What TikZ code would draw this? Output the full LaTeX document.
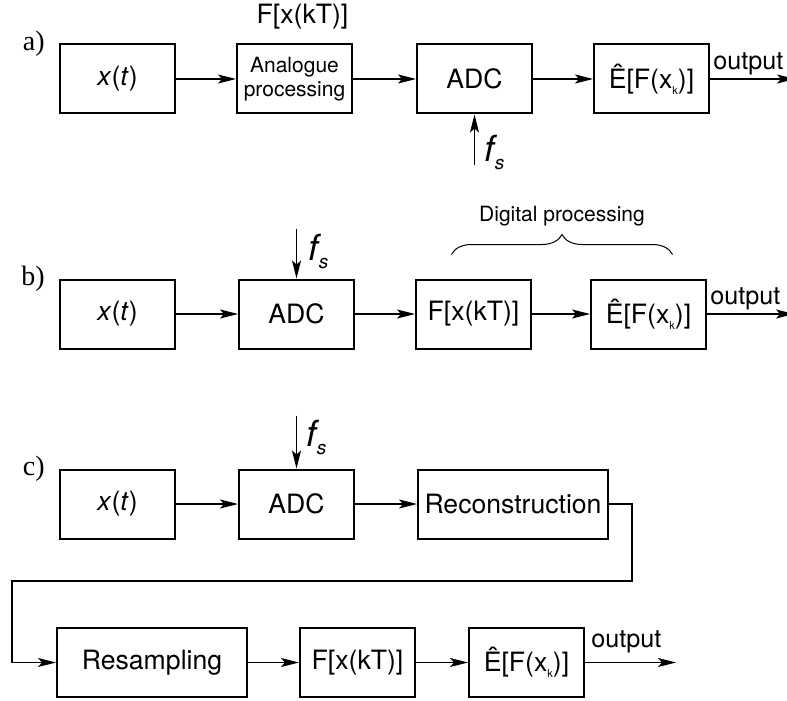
\documentclass[tikz,border=0pt]{standalone}
\usepackage{fontspec}
\setmainfont{TeX Gyre Heros}
\newfontfamily\tagfont{Liberation Serif}
\usetikzlibrary{arrows.meta, positioning, decorations.pathreplacing}
\newcommand{\boxsize}{\fontsize{13.3}{16}\selectfont}
\newcommand{\xt}{\textit{x}(\textit{t})}
\newcommand{\fxkt}{F[x(kT)]}
\newcommand{\estim}{Ê[F(x\raisebox{-3pt}{\fontsize{5.5}{6}\selectfont k})]}
\newcommand{\fsamp}{{\fontsize{18}{20}\selectfont\textit{f}}\kern-1.5pt\raisebox{-4pt}{\fontsize{9.5}{10}\selectfont\textit{s}}}
\tikzstyle{block} = [rectangle, minimum width=57.5pt, minimum height=34.5pt, inner sep=1pt, text centered, draw=black, line width=1pt, font=\boxsize]
\tikzstyle{wide} = [block, minimum width=95pt]
\tikzstyle{tag} = [inner sep=0pt, font=\tagfont\fontsize{14}{14}\selectfont]
\tikzstyle{lbl} = [inner sep=0pt, font=\boxsize]
\tikzstyle{outlbl} = [inner sep=0pt, font=\fontsize{12.6}{14}\selectfont]
\tikzstyle{arrow} = [line width=0.6pt, -{Stealth[length=9pt, width=4.5pt, inset=2pt]}]
\tikzstyle{brace} = [line width=0.5pt, decorate, decoration={brace, amplitude=10pt}]
\begin{document}
\begin{tikzpicture}
		\useasboundingbox (0,0) rectangle (393.5pt,-350.5pt);
		\node (xa) [block] at (58.75pt,-39.5pt) {\xt};
		\node (ana) [block, right=30pt of xa, align=center, font=\fontsize{10.5}{12}\selectfont] {Analogue\\processing};
		\node (adca) [block, right=31.5pt of ana] {ADC};
		\node (esta) [block, right=30pt of adca] {\estim};
		\node (taga) [tag, left=7pt of xa.north west] {a)};
		\node (fxa) [lbl, above=7pt of ana, xshift=4pt] {\fxkt};
		\node (fsa) [coordinate, below=25pt of adca] {};
		\node (fsla) [lbl, above right=-3pt and 5pt of fsa] {\fsamp};
		\node (outa) [coordinate, right=42.5pt of esta] {};
		\node (outla) [outlbl, above right=2pt and 1.5pt of esta.east] {output};

		\node (xb) [block] at (58.75pt,-157pt) {\xt};
		\node (adcb) [block, right=31pt of xb] {ADC};
		\node (fb) [block, right=30pt of adcb] {\fxkt};
		\node (estb) [block, right=29pt of fb] {\estim};
		\node (tagb) [tag, left=7pt of xb.north west] {b)};
		\node (fsb) [coordinate, above=25pt of adcb] {};
		\node (fslb) [lbl, below right=2.5pt and 6pt of fsb] {\fsamp};
		\node (outb) [coordinate, right=43.5pt of estb] {};
		\node (outlb) [outlbl, above right=2pt and 1.5pt of estb.east] {output};
		\node (brl) [coordinate, above left=12pt and 11pt of fb.north] {};
		\node (brr) [coordinate, above right=12pt and 12pt of estb.north] {};

		\node (xc) [block] at (58.75pt,-252pt) {\xt};
		\node (adcc) [block, right=31pt of xc] {ADC};
		\node (recc) [wide, right=31pt of adcc] {Reconstruction};
		\node (tagc) [tag, left=7pt of xc.north west] {c)};
		\node (fsc) [coordinate, above=26.5pt of adcc] {};
		\node (fslc) [lbl, below right=2pt and 5pt of fsc] {\fsamp};
		\coordinate (bendr) at (316pt,-290.5pt);
		\coordinate (bendl) at (6pt,-290.5pt);

		\node (resd) [wide] at (76pt,-331.25pt) {Resampling};
		\node (fd) [block, right=25.5pt of resd] {\fxkt};
		\node (estd) [block, right=26pt of fd] {\estim};
		\node (outd) [coordinate, right=45.5pt of estd] {};
		\node (outld) [outlbl, above right=4.5pt and 3pt of estd.east] {output};

		\draw [arrow] (xa) -- (ana);
		\draw [arrow] (ana) -- (adca);
		\draw [arrow] (adca) -- (esta);
		\draw [arrow] (esta) -- (outa);
		\draw [arrow] (fsa) -- (adca);

		\draw [arrow] (xb) -- (adcb);
		\draw [arrow] (adcb) -- (fb);
		\draw [arrow] (fb) -- (estb);
		\draw [arrow] (estb) -- (outb);
		\draw [arrow] (fsb) -- (adcb);
		\draw [brace] (brl) -- (brr) node (digl) [midway, above=14pt, inner sep=0pt, font=\fontsize{10.5}{12}\selectfont] {Digital processing};

		\draw [arrow] (xc) -- (adcc);
		\draw [arrow] (adcc) -- (recc);
		\draw [arrow] (fsc) -- (adcc);
		\draw [arrow] (recc.east) -| (bendr) -- (bendl) |- (resd.west);

		\draw [arrow] (resd) -- (fd);
		\draw [arrow] (fd) -- (estd);
		\draw [arrow] (estd) -- (outd);
\end{tikzpicture}
\end{document}
